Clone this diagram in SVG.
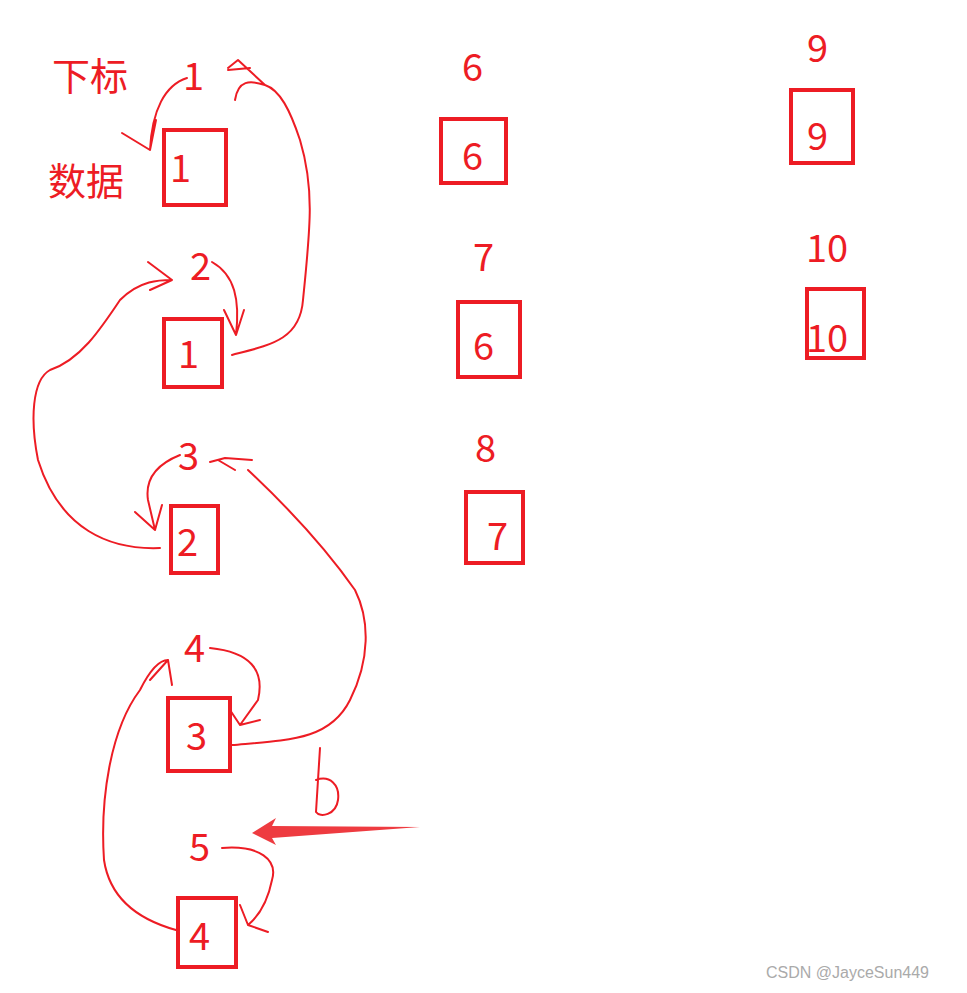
<svg xmlns="http://www.w3.org/2000/svg" width="967" height="993" viewBox="0 0 967 993">
<style>
.t{font-family:"Noto Sans CJK SC","Liberation Sans",sans-serif;font-size:38px;fill:#ed1c24}
.b{fill:none;stroke:#ed1c24;stroke-width:4}
.c{fill:none;stroke:#ed1c24;stroke-width:2;stroke-linecap:round;stroke-linejoin:round}
</style>
<rect width="967" height="993" fill="#fff"/>
<g id="labels">
<text class="t" x="52" y="90">下标</text>
<text class="t" x="48" y="195">数据</text>
</g>
<g id="n1"><text class="t" x="183" y="90">1</text><rect class="b" x="164" y="130" width="62" height="75"/><text class="t" x="170" y="182">1</text></g>
<g id="n2"><text class="t" x="190" y="280">2</text><rect class="b" x="164" y="319" width="58" height="68"/><text class="t" x="178" y="368">1</text></g>
<g id="n3"><text class="t" x="178" y="470">3</text><rect class="b" x="171" y="506" width="47" height="67"/><text class="t" x="177" y="556">2</text></g>
<g id="n4"><text class="t" x="184" y="662">4</text><rect class="b" x="168" y="698" width="62" height="73"/><text class="t" x="186" y="750">3</text></g>
<g id="n5"><text class="t" x="189" y="861">5</text><rect class="b" x="178" y="898" width="58" height="69"/><text class="t" x="189" y="950">4</text></g>
<g id="n6"><text class="t" x="462" y="81">6</text><rect class="b" x="441" y="119" width="65" height="64"/><text class="t" x="462" y="170">6</text></g>
<g id="n7"><text class="t" x="473" y="271">7</text><rect class="b" x="458" y="302" width="62" height="75"/><text class="t" x="473" y="360">6</text></g>
<g id="n8"><text class="t" x="475" y="462">8</text><rect class="b" x="466" y="492" width="57" height="71"/><text class="t" x="487" y="550">7</text></g>
<g id="n9"><text class="t" x="807" y="62">9</text><rect class="b" x="791" y="90" width="62" height="73"/><text class="t" x="807" y="150">9</text></g>
<g id="n10"><text class="t" x="806" y="262">10</text><rect class="b" x="807" y="289" width="57" height="69"/><text class="t" x="806" y="352">10</text></g>
<g id="connectors">
<path class="c" d="M187 78 C165 85 152 110 150 150 M122 133 L150 150 L156 120"/>
<path class="c" d="M232 355 C270 345 300 340 303 300 C310 230 315 190 300 140 C290 110 280 90 265 85 C250 80 238 80 235 100 M228 68 L238 60 L265 85 M228 70 L250 68"/>
<path class="c" d="M212 262 C235 275 240 300 236 335 M224 310 L236 335 L244 310"/>
<path class="c" d="M160 548 C110 550 60 530 38 460 C30 420 32 380 50 370 C80 360 100 330 120 300 C140 280 160 280 172 280 M148 262 L172 280 L150 290"/>
<path class="c" d="M180 455 C155 465 145 480 148 500 L155 530 M135 512 L155 530 L162 505"/>
<path class="c" d="M232 745 C290 740 330 740 350 700 C370 660 370 620 355 590 C320 540 280 500 248 470 M210 462 L225 458 L252 460 M218 460 L235 470"/>
<path class="c" d="M210 648 C250 652 265 670 258 700 L240 725 M230 710 L240 725 L260 720"/>
<path class="c" d="M176 930 C140 920 110 900 104 860 C100 800 110 730 140 690 C150 670 160 660 168 660 M150 680 L168 660 L172 685"/>
<path class="c" d="M222 848 C260 845 278 860 272 880 C268 900 260 915 248 925 M240 905 L248 925 L268 932"/>
<path class="c" d="M320 748 L316 812 C320 818 336 815 338 800 C340 785 330 775 316 780"/>
<path d="M420 827 L272 826 L276 818 L252 833 L276 845 L272 838 Z" fill="#ee3b40"/>
</g>
<text x="766" y="978" font-family="Liberation Sans,sans-serif" font-size="16" fill="#aaa">CSDN @JayceSun449</text>
</svg>
